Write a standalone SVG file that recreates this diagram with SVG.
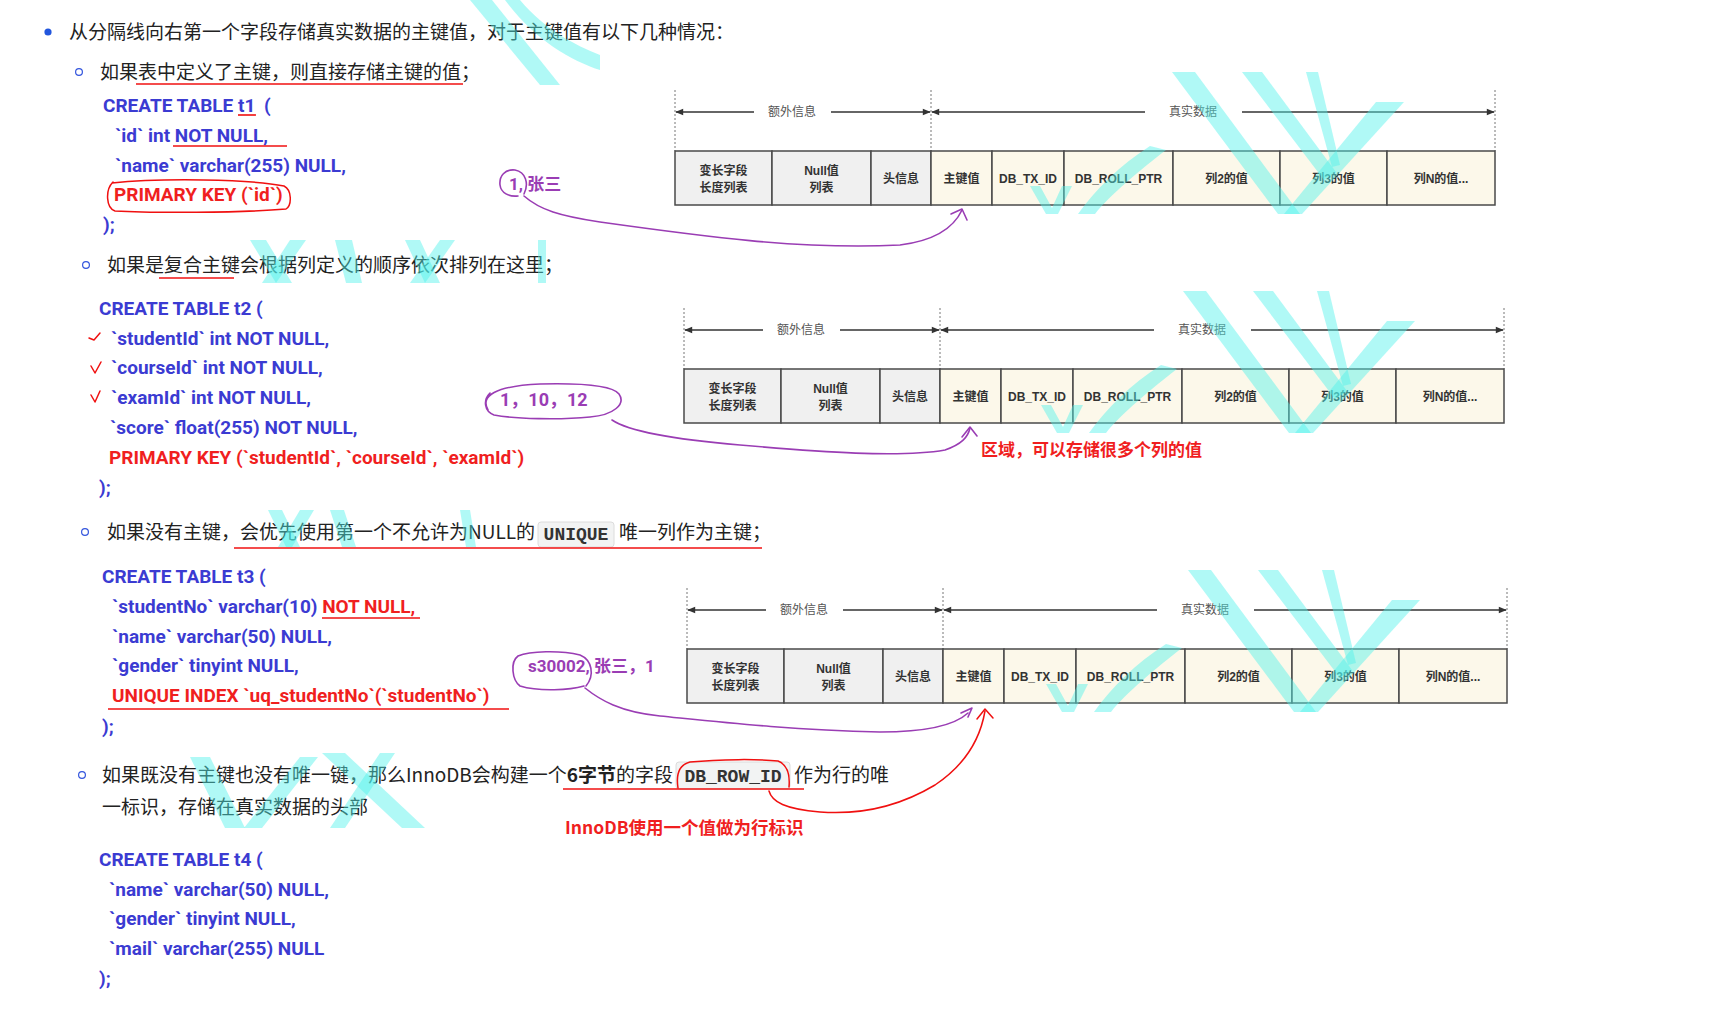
<svg xmlns="http://www.w3.org/2000/svg" width="1715" height="1013" viewBox="0 0 1715 1013">
<defs>
<style>
.t{font-family:"Noto Sans CJK SC","Noto Sans",sans-serif;font-size:19px;fill:#222}
.b{font-weight:bold}
.c{font-family:Roboto,"Liberation Sans","Noto Sans CJK SC",sans-serif;font-weight:bold;font-size:19px;fill:#3b3bd2}
.r{fill:#f01f1f}
.p{font-family:Roboto,"Liberation Sans","Noto Sans CJK SC",sans-serif;font-weight:bold;font-size:17px;fill:#9a3db4}
.rn{font-family:"Noto Sans CJK SC",sans-serif;font-weight:bold;font-size:17px;fill:#f01f1f}
.m{font-family:"Liberation Mono","DejaVu Sans Mono",monospace;font-weight:bold;font-size:18px;fill:#333;text-anchor:middle}
.kb{fill:#f2f3f3;stroke:#dcdcdc;stroke-width:1}
.cell{stroke:#4a4a4a;stroke-width:1.5}
.g{fill:#f0f0f0}
.y{fill:#fcf8ea}
.ct{font-family:"Liberation Sans","Noto Sans CJK SC",sans-serif;font-weight:bold;font-size:12px;fill:#333;text-anchor:middle}
.lb{font-family:"Noto Sans CJK SC",sans-serif;font-size:12px;fill:#555;text-anchor:middle}
.dash{stroke:#777;stroke-width:1;stroke-dasharray:2 2}
.arr{stroke:#333;stroke-width:1.5;fill:none;marker-end:url(#ah)}
.ul{stroke:#f01010;stroke-width:1.6;fill:none}
.pd{stroke:#9a3db4;stroke-width:1.6;fill:none;stroke-linecap:round;stroke-linejoin:round}
.rd{stroke:#f01010;stroke-width:1.5;fill:none;stroke-linecap:round;stroke-linejoin:round}
.wm path{fill:#4ff2ea;opacity:0.45}
.dot{fill:none;stroke:#3355dd;stroke-width:1.2}
</style>
<marker id="ah" viewBox="0 0 10 10" refX="9" refY="5" markerWidth="9" markerHeight="8" markerUnits="userSpaceOnUse" orient="auto"><path d="M0,1 L10,5 L0,9 Z" fill="#333"/></marker>
</defs>
<rect width="1715" height="1013" fill="#fff"/>

<!-- body text -->
<g id="text-intro">
<circle cx="48" cy="32" r="3.6" fill="#2256dd"/>
<text class="t" x="69" y="39">从分隔线向右第一个字段存储真实数据的主键值，对于主键值有以下几种情况：</text>
</g>

<g id="case1">
<circle class="dot" cx="79" cy="72" r="3.4"/>
<text class="t" x="100" y="79">如果表中定义了主键，则直接存储主键的值；</text>
<line class="ul" x1="136" y1="84" x2="463" y2="84"/>
<text class="c" x="103" y="111.5">CREATE TABLE t1<tspan x="264">(</tspan></text>
<line class="ul" x1="238" y1="115" x2="256" y2="115"/>
<text class="c" x="115" y="141.5">`id` int NOT NULL,</text>
<line class="ul" x1="173" y1="146" x2="287" y2="146"/>
<text class="c" x="115" y="171.5">`name` varchar(255) NULL,</text>
<text class="c r" x="114" y="200.5">PRIMARY KEY (`id`)</text>
<path class="rd" d="M112,183 C160,178 250,179 284,186 C292,190 292,205 286,209 C240,213 150,213 115,211 C106,208 105,190 113,182"/>
<text class="c" x="103" y="231">);</text>
</g>

<g id="case2">
<circle class="dot" cx="86" cy="265" r="3.4"/>
<text class="t" x="107" y="272">如果是复合主键会根据列定义的顺序依次排列在这里；</text>
<line class="ul" x1="159" y1="278" x2="234" y2="278"/>
<text class="c" x="99" y="314.5">CREATE TABLE t2 (</text>
<path class="rd" d="M89,338 L94,340 L100,333"/>
<text class="c" x="111" y="344.5">`studentId` int NOT NULL,</text>
<path class="rd" d="M91,366 L95,373 L101,362"/>
<text class="c" x="111" y="373.5">`courseId` int NOT NULL,</text>
<path class="rd" d="M91,395 L95,402 L100,391"/>
<text class="c" x="111" y="403.5">`examId` int NOT NULL,</text>
<text class="c" x="110" y="433.5">`score` float(255) NOT NULL,</text>
<text class="c r" x="109" y="463.5">PRIMARY KEY (`studentId`, `courseId`, `examId`)</text>
<text class="c" x="99" y="493.5">);</text>
</g>

<g id="case3">
<circle class="dot" cx="85" cy="532" r="3.4"/>
<text class="t" x="107" y="539">如果没有主键，会优先使用第一个不允许为NULL的</text>
<rect class="kb" x="538" y="522" width="76" height="25" rx="3"/>
<text class="m" x="576" y="540">UNIQUE</text>
<text class="t" x="619" y="539">唯一列作为主键；</text>
<line class="ul" x1="234" y1="548" x2="762" y2="548"/>
<text class="c" x="102" y="582.5">CREATE TABLE t3 (</text>
<text class="c" x="112" y="613">`studentNo` varchar(10) <tspan class="r">NOT NULL,</tspan></text>
<line class="ul" x1="322" y1="618" x2="420" y2="618"/>
<text class="c" x="112" y="643">`name` varchar(50) NULL,</text>
<text class="c" x="112" y="672">`gender` tinyint NULL,</text>
<text class="c r" x="112" y="701.5">UNIQUE INDEX `uq_studentNo`(`studentNo`)</text>
<line class="ul" x1="108" y1="709" x2="509" y2="709"/>
<text class="c" x="102" y="733">);</text>
</g>

<g id="case4">
<circle class="dot" cx="82" cy="775" r="3.4"/>
<text class="t" x="102" y="782">如果既没有主键也没有唯一键，那么InnoDB会构建一个<tspan class="b">6字节</tspan>的字段</text>
<rect class="kb" x="676" y="762" width="114" height="27" rx="3"/>
<text class="m" x="733" y="782">DB_ROW_ID</text>
<text class="t" x="794" y="782">作为行的唯</text>
<line class="ul" x1="563" y1="789" x2="804" y2="789"/>
<text class="t" x="102" y="814">一标识，存储在真实数据的头部</text>
<text class="rn" x="565" y="834" style="font-size:17.5px">InnoDB使用一个值做为行标识</text>
<text class="c" x="99" y="865.5">CREATE TABLE t4 (</text>
<text class="c" x="109" y="895.5">`name` varchar(50) NULL,</text>
<text class="c" x="109" y="925">`gender` tinyint NULL,</text>
<text class="c" x="109" y="954.5">`mail` varchar(255) NULL</text>
<text class="c" x="99" y="984.5">);</text>
</g>

<!-- row format tables -->
<g id="table1">
<line class="dash" x1="675" y1="90" x2="675" y2="151"/>
<line class="dash" x1="931" y1="90" x2="931" y2="151"/>
<line class="dash" x1="1495" y1="90" x2="1495" y2="151"/>
<line class="arr" x1="754" y1="112" x2="676" y2="112"/>
<line class="arr" x1="831" y1="112" x2="930" y2="112"/>
<line class="arr" x1="1145" y1="112" x2="932" y2="112"/>
<line class="arr" x1="1242" y1="112" x2="1494" y2="112"/>
<text class="lb" x="792" y="116">额外信息</text>
<text class="lb" x="1193" y="116">真实数据</text>
<rect class="cell g" x="675" y="151" width="97" height="54"/>
<rect class="cell g" x="772" y="151" width="99" height="54"/>
<rect class="cell g" x="871" y="151" width="60" height="54"/>
<rect class="cell y" x="931" y="151" width="61" height="54"/>
<rect class="cell y" x="992" y="151" width="72" height="54"/>
<rect class="cell y" x="1064" y="151" width="109" height="54"/>
<rect class="cell y" x="1173" y="151" width="107" height="54"/>
<rect class="cell y" x="1280" y="151" width="107" height="54"/>
<rect class="cell y" x="1387" y="151" width="108" height="54"/>
<text class="ct" x="723.5" y="174.5">变长字段</text>
<text class="ct" x="723.5" y="191.5">长度列表</text>
<text class="ct" x="821.5" y="174.5">Null值</text>
<text class="ct" x="821.5" y="191.5">列表</text>
<text class="ct" x="901" y="182.5">头信息</text>
<text class="ct" x="961.5" y="182.5">主键值</text>
<text class="ct" x="1028" y="182.5">DB_TX_ID</text>
<text class="ct" x="1118.5" y="182.5">DB_ROLL_PTR</text>
<text class="ct" x="1226.5" y="182.5">列2的值</text>
<text class="ct" x="1333.5" y="182.5">列3的值</text>
<text class="ct" x="1441" y="182.5">列N的值...</text>
</g>

<g id="table2" transform="translate(9,218)">
<line class="dash" x1="675" y1="90" x2="675" y2="151"/>
<line class="dash" x1="931" y1="90" x2="931" y2="151"/>
<line class="dash" x1="1495" y1="90" x2="1495" y2="151"/>
<line class="arr" x1="754" y1="112" x2="676" y2="112"/>
<line class="arr" x1="831" y1="112" x2="930" y2="112"/>
<line class="arr" x1="1145" y1="112" x2="932" y2="112"/>
<line class="arr" x1="1242" y1="112" x2="1494" y2="112"/>
<text class="lb" x="792" y="116">额外信息</text>
<text class="lb" x="1193" y="116">真实数据</text>
<rect class="cell g" x="675" y="151" width="97" height="54"/>
<rect class="cell g" x="772" y="151" width="99" height="54"/>
<rect class="cell g" x="871" y="151" width="60" height="54"/>
<rect class="cell y" x="931" y="151" width="61" height="54"/>
<rect class="cell y" x="992" y="151" width="72" height="54"/>
<rect class="cell y" x="1064" y="151" width="109" height="54"/>
<rect class="cell y" x="1173" y="151" width="107" height="54"/>
<rect class="cell y" x="1280" y="151" width="107" height="54"/>
<rect class="cell y" x="1387" y="151" width="108" height="54"/>
<text class="ct" x="723.5" y="174.5">变长字段</text>
<text class="ct" x="723.5" y="191.5">长度列表</text>
<text class="ct" x="821.5" y="174.5">Null值</text>
<text class="ct" x="821.5" y="191.5">列表</text>
<text class="ct" x="901" y="182.5">头信息</text>
<text class="ct" x="961.5" y="182.5">主键值</text>
<text class="ct" x="1028" y="182.5">DB_TX_ID</text>
<text class="ct" x="1118.5" y="182.5">DB_ROLL_PTR</text>
<text class="ct" x="1226.5" y="182.5">列2的值</text>
<text class="ct" x="1333.5" y="182.5">列3的值</text>
<text class="ct" x="1441" y="182.5">列N的值...</text>
</g>

<g id="table3" transform="translate(12,498)">
<line class="dash" x1="675" y1="90" x2="675" y2="151"/>
<line class="dash" x1="931" y1="90" x2="931" y2="151"/>
<line class="dash" x1="1495" y1="90" x2="1495" y2="151"/>
<line class="arr" x1="754" y1="112" x2="676" y2="112"/>
<line class="arr" x1="831" y1="112" x2="930" y2="112"/>
<line class="arr" x1="1145" y1="112" x2="932" y2="112"/>
<line class="arr" x1="1242" y1="112" x2="1494" y2="112"/>
<text class="lb" x="792" y="116">额外信息</text>
<text class="lb" x="1193" y="116">真实数据</text>
<rect class="cell g" x="675" y="151" width="97" height="54"/>
<rect class="cell g" x="772" y="151" width="99" height="54"/>
<rect class="cell g" x="871" y="151" width="60" height="54"/>
<rect class="cell y" x="931" y="151" width="61" height="54"/>
<rect class="cell y" x="992" y="151" width="72" height="54"/>
<rect class="cell y" x="1064" y="151" width="109" height="54"/>
<rect class="cell y" x="1173" y="151" width="107" height="54"/>
<rect class="cell y" x="1280" y="151" width="107" height="54"/>
<rect class="cell y" x="1387" y="151" width="108" height="54"/>
<text class="ct" x="723.5" y="174.5">变长字段</text>
<text class="ct" x="723.5" y="191.5">长度列表</text>
<text class="ct" x="821.5" y="174.5">Null值</text>
<text class="ct" x="821.5" y="191.5">列表</text>
<text class="ct" x="901" y="182.5">头信息</text>
<text class="ct" x="961.5" y="182.5">主键值</text>
<text class="ct" x="1028" y="182.5">DB_TX_ID</text>
<text class="ct" x="1118.5" y="182.5">DB_ROLL_PTR</text>
<text class="ct" x="1226.5" y="182.5">列2的值</text>
<text class="ct" x="1333.5" y="182.5">列3的值</text>
<text class="ct" x="1441" y="182.5">列N的值...</text>
</g>

<!-- annotations -->
<g id="note1">
<text class="p" x="509" y="190">1, 张三</text>
<path class="pd" d="M524,194 C529,184 526,172 515,170 C505,169 499,176 500,185 C501,193 509,197 518,196"/>
</g>
<g id="note2">
<text class="p" x="500" y="406" style="font-size:18px">1，10，12</text>
<path class="pd" d="M488,410 C480,396 495,386 540,384 C580,383 612,385 619,394 C626,404 614,415 590,417 C560,420 515,419 494,415 C484,411 483,400 490,393"/>
</g>
<g id="note3">
<text class="p" x="528" y="672">s30002, 张三，1</text>
<path class="pd" d="M586,686 C595,675 592,660 580,655 C560,650 530,651 518,656 C510,662 512,680 520,686 C540,692 570,690 584,686"/>
</g>
<text class="rn" x="981" y="456">区域，可以存储很多个列的值</text>

<g id="connectors">
<path class="pd" d="M524,196 C540,210 560,216 600,222 C700,236 800,250 900,245 C940,240 955,225 962,210"/>
<path class="pd" d="M951,214 L962,209 L967,220"/>
<path class="pd" d="M612,420 C630,432 680,440 740,445 C820,452 900,458 945,450 C962,444 968,437 970,428"/>
<path class="pd" d="M962,437 L970,427 L977,436"/>
<path class="pd" d="M585,688 C600,700 620,712 660,716 C720,722 790,730 880,732 C930,732 955,725 968,713"/>
<path class="pd" d="M961,713 L972,708 L968,717"/>
<path class="rd" d="M678,788 C676,775 678,765 690,762 C720,759 760,759 778,761 C788,765 790,776 789,787"/>
<path class="rd" d="M769,791 C772,802 785,809 820,812 C860,815 900,806 935,785 C965,765 980,740 985,711"/>
<path class="rd" d="M977,719 L985,709 L993,718"/>
</g>

<!-- watermark -->
<g class="wm">
<g id="wm-t1">
<path d="M1172,72 L1195,72 L1300,214 L1278,214 Z"/>
<path d="M1242,72 L1262,72 L1336,172 L1324,180 Z"/>
<path d="M1306,72 L1318,72 L1340,165 L1332,167 Z"/>
<path d="M1376,102 L1404,102 L1302,214 L1284,214 Z"/>
<path d="M1150,146 L1166,150 C1140,170 1110,195 1095,214 L1078,214 C1095,190 1120,165 1150,146 Z"/>
<path d="M1030,186 L1040,186 L1052,208 L1062,186 L1072,186 L1058,214 L1046,214 Z"/>
</g>
<g transform="translate(11,219)">
<path d="M1172,72 L1195,72 L1300,214 L1278,214 Z"/>
<path d="M1242,72 L1262,72 L1336,172 L1324,180 Z"/>
<path d="M1306,72 L1318,72 L1340,165 L1332,167 Z"/>
<path d="M1376,102 L1404,102 L1302,214 L1284,214 Z"/>
<path d="M1150,146 L1166,150 C1140,170 1110,195 1095,214 L1078,214 C1095,190 1120,165 1150,146 Z"/>
<path d="M1030,186 L1040,186 L1052,208 L1062,186 L1072,186 L1058,214 L1046,214 Z"/>
</g>
<g transform="translate(16,498)">
<path d="M1172,72 L1195,72 L1300,214 L1278,214 Z"/>
<path d="M1242,72 L1262,72 L1336,172 L1324,180 Z"/>
<path d="M1306,72 L1318,72 L1340,165 L1332,167 Z"/>
<path d="M1376,102 L1404,102 L1302,214 L1284,214 Z"/>
<path d="M1150,146 L1166,150 C1140,170 1110,195 1095,214 L1078,214 C1095,190 1120,165 1150,146 Z"/>
<path d="M1030,186 L1040,186 L1052,208 L1062,186 L1072,186 L1058,214 L1046,214 Z"/>
</g>
<path d="M470,0 L492,0 L560,85 L540,85 Z"/>
<path d="M505,0 L520,0 C545,30 575,45 600,55 L600,70 C570,60 535,40 505,0 Z"/>
<path d="M250,240 L266,240 L292,283 L276,283 Z"/>
<path d="M290,240 L306,240 L276,283 L262,283 Z"/>
<path d="M335,240 L352,240 L362,283 L346,283 Z"/>
<path d="M405,240 L420,240 L440,283 L425,283 Z"/>
<path d="M440,240 L455,240 L425,283 L410,283 Z"/>
<path d="M538,240 L546,240 L546,283 L538,283 Z"/>
<path d="M268,510 L282,510 L300,547 L286,547 Z"/>
<path d="M300,510 L314,510 L292,547 L278,547 Z"/>
<path d="M330,510 L344,510 L356,547 L342,547 Z"/>
<path d="M460,510 L470,510 L476,547 L466,547 Z"/>
<path d="M190,757 L210,757 L245,828 L225,828 Z"/>
<path d="M300,757 L318,757 L262,828 L244,828 Z"/>
<path d="M322,753 L345,753 L425,828 L402,828 Z"/>
<path d="M380,753 L395,753 L345,828 L330,828 Z"/>
</g>
</svg>
